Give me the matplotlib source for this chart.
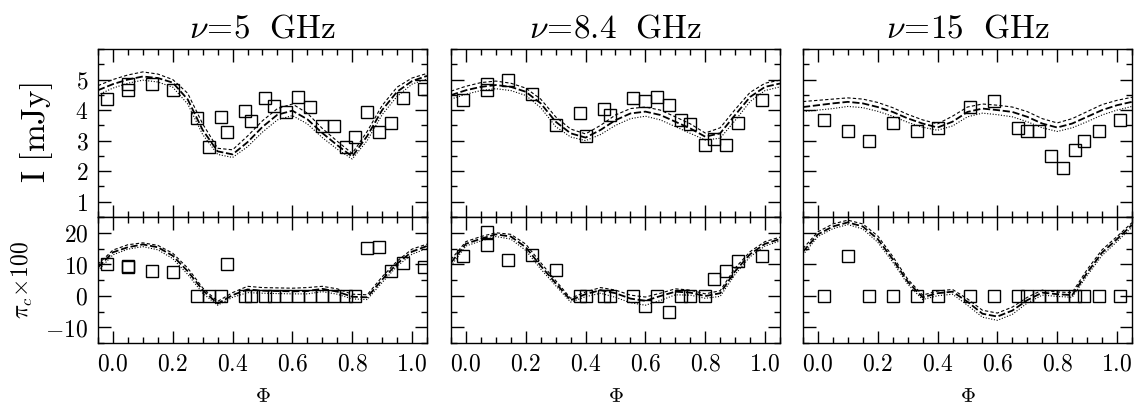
"""Light curves of total flux and circular polarization at three frequencies."""
import matplotlib.pyplot as plt
from matplotlib.ticker import FixedLocator, FuncFormatter, MultipleLocator

plt.rcParams['mathtext.fontset'] = 'cm'
plt.rcParams['font.family'] = 'serif'
plt.rcParams['font.serif'] = ['DejaVu Serif']

freq_titles = [r'$\nu\!=\!5\ \ \mathrm{GHz}$', r'$\nu\!=\!8.4\ \ \mathrm{GHz}$',
               r'$\nu\!=\!15\ \ \mathrm{GHz}$']

# observed points
phase_5 = [-0.02, 0.05, 0.05, 0.13, 0.20, 0.28, 0.32, 0.36, 0.38, 0.44, 0.46, 0.51, 0.54,
           0.58, 0.62, 0.66, 0.70, 0.74, 0.78, 0.81, 0.85, 0.89, 0.93, 0.97, 1.04]
i_5 = [4.37, 4.87, 4.67, 4.87, 4.67, 3.73, 2.78, 3.79, 3.27, 3.97, 3.64, 4.39, 4.13,
       3.94, 4.43, 4.09, 3.47, 3.47, 2.78, 3.12, 3.95, 3.28, 3.58, 4.39, 4.70]
pi_5 = [10.2, 9.5, 9.0, 7.8, 7.5, 0, 0, 0, 10.0, 0, 0, 0, 0,
        0, 0, 0, 0, 0, 0, 0, 15.1, 15.6, 7.8, 10.3, 9.2]

phase_8 = [-0.01, 0.07, 0.07, 0.14, 0.22, 0.30, 0.38, 0.40, 0.46, 0.48, 0.56, 0.60,
           0.64, 0.68, 0.72, 0.75, 0.80, 0.83, 0.87, 0.91, 0.99]
i_8 = [4.32, 4.84, 4.65, 4.98, 4.52, 3.51, 3.89, 3.15, 4.02, 3.83, 4.41, 4.30,
       4.42, 4.18, 3.69, 3.54, 2.85, 3.05, 2.85, 3.58, 4.32]
pi_8 = [12.7, 20.4, 16.2, 11.4, 13.0, 8.3, 0, 0, 0, 0, 0, -3.2,
        0, -5.0, 0, 0, 0, 5.4, 7.8, 11.0, 12.7]

phase_15 = [0.02, 0.10, 0.17, 0.25, 0.33, 0.40, 0.51, 0.59, 0.67, 0.70, 0.74, 0.78,
            0.82, 0.86, 0.89, 0.94, 1.01]
i_15 = [3.69, 3.30, 2.99, 3.59, 3.30, 3.40, 4.10, 4.29, 3.40, 3.30, 3.30, 2.49,
        2.10, 2.69, 2.99, 3.30, 3.69]
pi_15 = [0, 12.5, 0, 0, 0, 0, 0, 0, 0, 0, 0, 0,
         0, 0, 0, 0, 0]

# model curves
model_phase = [-0.05, 0.0, 0.05, 0.10, 0.15, 0.20, 0.25, 0.30, 0.35, 0.40, 0.45, 0.50,
               0.55, 0.60, 0.65, 0.70, 0.75, 0.80, 0.85, 0.90, 0.95, 1.00, 1.05]

model_i_5 = [4.65, 4.85, 5.00, 5.10, 5.05, 4.90, 4.35, 3.35, 2.65, 2.55, 2.95, 3.45,
             3.85, 3.98, 3.70, 3.25, 2.85, 2.48, 3.15, 4.00, 4.60, 4.95, 5.12]
model_i_5_hi = [4.80, 5.00, 5.15, 5.25, 5.18, 5.00, 4.55, 3.55, 2.75, 2.70, 3.15, 3.65,
                4.05, 4.20, 3.90, 3.40, 2.98, 2.58, 3.30, 4.15, 4.75, 5.05, 5.20]
model_i_5_lo = [4.50, 4.72, 4.88, 4.98, 4.92, 4.75, 4.20, 3.20, 2.55, 2.45, 2.80, 3.28,
                3.68, 3.82, 3.55, 3.10, 2.72, 2.40, 3.00, 3.85, 4.45, 4.85, 5.02]

model_pi_5 = [9.0, 13.8, 15.4, 16.3, 15.4, 12.7, 7.8, 1.8, -2.5, 0.2, 2.0, 1.6,
              1.5, 1.4, 1.5, 2.2, 1.3, -0.3, -0.5, 5.1, 10.2, 14.0, 15.8]
model_pi_5_hi = [10.0, 14.5, 16.2, 16.8, 16.0, 13.5, 8.8, 2.5, -1.8, 1.0, 3.0, 2.6,
                 2.5, 2.4, 2.6, 3.0, 2.2, 0.5, 0.3, 6.0, 11.0, 14.8, 16.4]
model_pi_5_lo = [8.0, 13.0, 14.8, 15.6, 14.6, 11.8, 6.8, 0.8, -3.0, -0.5, 1.0, 0.8,
                 0.7, 0.6, 0.6, 1.3, 0.5, -1.0, -1.2, 4.2, 9.4, 13.2, 15.0]

model_i_8 = [4.49, 4.65, 4.76, 4.82, 4.76, 4.60, 4.22, 3.62, 3.24, 3.10, 3.35, 3.67,
             3.89, 3.95, 3.84, 3.62, 3.40, 3.13, 3.24, 3.84, 4.43, 4.76, 4.87]
model_i_8_hi = [4.62, 4.78, 4.90, 4.95, 4.88, 4.72, 4.36, 3.78, 3.38, 3.22, 3.50, 3.84,
                4.05, 4.10, 4.00, 3.78, 3.55, 3.25, 3.42, 4.02, 4.58, 4.88, 4.98]
model_i_8_lo = [4.36, 4.52, 4.64, 4.70, 4.64, 4.48, 4.08, 3.46, 3.12, 3.00, 3.20, 3.50,
                3.72, 3.80, 3.68, 3.46, 3.24, 3.02, 3.08, 3.66, 4.28, 4.64, 4.76]

model_pi_8 = [10.5, 16.5, 18.1, 19.5, 18.8, 15.4, 9.5, 4.0, -1.4, 0.5, 1.8, 0.8,
              -0.9, -1.6, -0.1, 1.3, 1.0, -0.1, 0.8, 7.8, 13.2, 16.5, 18.0]
model_pi_8_hi = [11.5, 17.2, 18.8, 20.0, 19.5, 16.4, 10.5, 4.8, -0.8, 1.2, 2.6, 1.8,
                 0.2, -0.4, 0.8, 2.2, 1.8, 0.6, 1.6, 8.8, 14.0, 17.2, 18.6]
model_pi_8_lo = [9.5, 15.8, 17.4, 18.8, 18.0, 14.4, 8.5, 3.2, -2.0, -0.3, 0.8, -0.5,
                 -2.2, -3.0, -1.5, 0.3, 0.2, -0.8, -0.2, 6.8, 12.4, 15.8, 17.4]

model_i_15 = [4.10, 4.16, 4.22, 4.27, 4.22, 4.10, 3.94, 3.73, 3.56, 3.43, 3.62, 3.94,
              4.05, 4.00, 3.94, 3.78, 3.56, 3.43, 3.56, 3.78, 4.00, 4.16, 4.27]
model_i_15_hi = [4.28, 4.32, 4.36, 4.40, 4.36, 4.25, 4.08, 3.86, 3.68, 3.55, 3.80, 4.10,
                 4.20, 4.16, 4.10, 3.95, 3.72, 3.58, 3.72, 3.95, 4.18, 4.32, 4.42]
model_i_15_lo = [3.95, 4.00, 4.05, 4.12, 4.08, 3.96, 3.80, 3.60, 3.44, 3.34, 3.48, 3.78,
                 3.90, 3.85, 3.78, 3.62, 3.42, 3.30, 3.42, 3.62, 3.84, 4.00, 4.12]

model_pi_15 = [14.0, 19.5, 22.0, 23.3, 22.0, 18.0, 11.6, 4.5, -0.5, 0.8, 1.3, -1.9,
               -5.7, -6.6, -4.7, -1.4, 1.0, 0.5, 0.2, 7.3, 13.7, 18.0, 22.5]
model_pi_15_hi = [15.0, 20.3, 22.8, 24.0, 22.8, 19.0, 12.5, 5.3, 0.2, 1.5, 2.0, -1.0,
                  -4.6, -5.5, -3.6, -0.5, 1.8, 1.2, 1.0, 8.3, 14.6, 18.8, 23.2]
model_pi_15_lo = [13.0, 18.8, 21.3, 22.6, 21.2, 17.0, 10.7, 3.7, -1.2, 0.0, 0.5, -3.0,
                  -6.8, -7.8, -5.9, -2.3, 0.2, -0.2, -0.5, 6.4, 12.8, 17.2, 21.8]

i_ticks = [1, 2, 3, 4, 5]
pi_ticks = [-10, 0, 10, 20]

obs = [(phase_5, i_5, pi_5), (phase_8, i_8, pi_8), (phase_15, i_15, pi_15)]
models_i = [(model_i_5, model_i_5_hi, model_i_5_lo),
            (model_i_8, model_i_8_hi, model_i_8_lo),
            (model_i_15, model_i_15_hi, model_i_15_lo)]
models_pi = [(model_pi_5, model_pi_5_hi, model_pi_5_lo),
             (model_pi_8, model_pi_8_hi, model_pi_8_lo),
             (model_pi_15, model_pi_15_hi, model_pi_15_lo)]


def style_axis(ax, ymin, ymax, yticks, ymin_step):
    ax.set_xlim(-0.05, 1.05)
    ax.set_ylim(ymin, ymax)
    ax.xaxis.set_major_locator(MultipleLocator(0.2))
    ax.xaxis.set_minor_locator(MultipleLocator(0.05))
    ax.yaxis.set_major_locator(FixedLocator(yticks))
    ax.yaxis.set_minor_locator(MultipleLocator(ymin_step))
    ax.tick_params(which='both', direction='in', top=True, right=True, width=1.0)
    ax.tick_params(which='major', length=9, labelsize=17, pad=7)
    ax.tick_params(which='minor', length=4.5)
    for sp in ax.spines.values():
        sp.set_linewidth(1.0)


def draw_models(ax, curves):
    mid, hi, lo = curves
    ax.plot(model_phase, hi, color='k', lw=0.8, ls=(0, (3, 2)))
    ax.plot(model_phase, lo, color='k', lw=0.8, ls=(0, (1, 1.5)))
    ax.plot(model_phase, mid, color='k', lw=1.3, ls=(0, (4, 1.5)))


fig = plt.figure(figsize=(11.38, 4.08), dpi=100)
lefts = [0.0861, 0.3963, 0.7056]
width = 0.2891
for k in range(3):
    phase, flux, circ = obs[k]
    ax_t = fig.add_axes([lefts[k], 0.4681, width, 0.4118])
    ax_b = fig.add_axes([lefts[k], 0.1593, width, 0.3088])

    draw_models(ax_t, models_i[k])
    ax_t.plot(phase, flux, 's', ms=8, mfc='none', mec='k', mew=1.0)
    style_axis(ax_t, 0.5, 6.0, i_ticks, 0.5)
    ax_t.set_xticklabels([])
    ax_t.set_title(freq_titles[k], fontsize=24, pad=8)

    draw_models(ax_b, models_pi[k])
    ax_b.plot(phase, circ, 's', ms=8, mfc='none', mec='k', mew=1.0)
    style_axis(ax_b, -15, 25, pi_ticks, 5)
    ax_b.xaxis.set_major_formatter(FuncFormatter(lambda v, _: f'${v:.1f}$'))
    ax_b.set_xlabel(r'$\Phi$', fontsize=15, labelpad=8)

    if k == 0:
        ax_t.yaxis.set_major_formatter(FuncFormatter(lambda v, _: f'${v:.0f}$'))
        ax_b.yaxis.set_major_formatter(FuncFormatter(lambda v, _: f'${v:.0f}$'))
        ax_t.set_ylabel(r'$\mathrm{I\ [mJy]}$', fontsize=24)
        ax_t.yaxis.set_label_coords(-0.13, 0.5)
        ax_b.set_ylabel(r'$\pi_c\!\times\!100$', fontsize=17)
        ax_b.yaxis.set_label_coords(-0.19, 0.5)
    else:
        ax_t.set_yticklabels([])
        ax_b.set_yticklabels([])

fig.savefig('out.png', dpi=100)
